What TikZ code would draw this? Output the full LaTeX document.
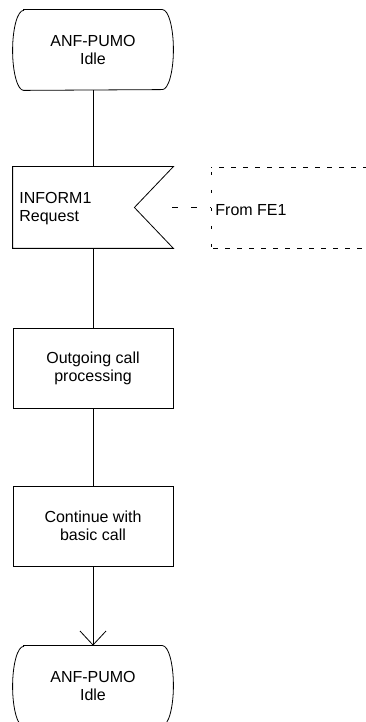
\documentclass[tikz,border=0pt]{standalone}
\usepackage{fontspec}
\setmainfont{Liberation Sans}
\usetikzlibrary{arrows.meta,calc}
\begin{document}
\begin{tikzpicture}[x=1pt,y=1pt,line width=0.8pt,
  lbl/.style={font=\fontsize{16}{18}\selectfont, align=center, inner sep=0pt},
  procbox/.style={lbl, draw, minimum width=160pt, minimum height=80pt},
  statebox/.style={lbl, minimum width=138pt, minimum height=80pt},
  sigbox/.style={minimum width=160pt, minimum height=81pt, inner sep=0pt},
  hdash/.style={dash pattern=on 5pt off 7pt},
  vdash/.style={dash pattern=on 3pt off 15pt},
  flowarrow/.style={-{Straight Barb[length=14pt,width=26pt]}}]
\useasboundingbox (0,0) rectangle (366,722);
\clip (0,0) rectangle (366,722);
% top state
\node[statebox] (s1) at (93,672) {ANF-PUMO\\Idle};
\draw (s1.north west) -- (s1.north east)
  arc[start angle=90,end angle=-90,x radius=11,y radius=40]
  -- (s1.south west)
  arc[start angle=270,end angle=90,x radius=11,y radius=40] -- cycle;
% input signal
\node[sigbox] (sig) at (93,514.5) {};
\draw (sig.north west) -- (sig.north east) -- ($(sig.east)+(-39,0)$)
  -- (sig.south east) -- (sig.south west) -- cycle;
\node[lbl, align=left, anchor=west] (sigtxt) at (19,513.5)
  {\fontsize{16}{20}\selectfont INFORM1\\Request};
% process boxes
\node[procbox] (b1) at (93,354) {Outgoing call\\processing};
\node[procbox] (b2) at (93,196) {Continue with\\basic call};
% bottom state
\node[statebox] (s2) at (93,36) {ANF-PUMO\\Idle};
\draw (s2.north west) -- (s2.north east)
  arc[start angle=90,end angle=-90,x radius=11,y radius=40]
  -- (s2.south west)
  arc[start angle=270,end angle=90,x radius=11,y radius=40] -- cycle;
% connectors
\draw (s1.south) -- (sig.north);
\draw (sig.south) -- (b1.north);
\draw (b1.south) -- (b2.north);
\draw[flowarrow] (b2.south) -- (s2.north);
% comment box
\coordinate (dtl) at (211,555);
\coordinate (dbl) at (211,474);
\coordinate (dtr) at (370,555);
\coordinate (dbr) at (370,474);
\draw[hdash, dash phase=4pt] (dtl) -- (dtr);
\draw[hdash, dash phase=-2pt] (dbl) -- (dbr);
\draw[vdash, dash phase=-5pt] (dtl) -- (dbl);
\node[lbl, anchor=west] (fe1) at (215,511.5) {From FE1};
\coordinate (fe) at (172,514.5);
\draw[dash pattern=on 6pt off 13pt] (fe) -- (fe -| dtl);
\end{tikzpicture}
\end{document}
